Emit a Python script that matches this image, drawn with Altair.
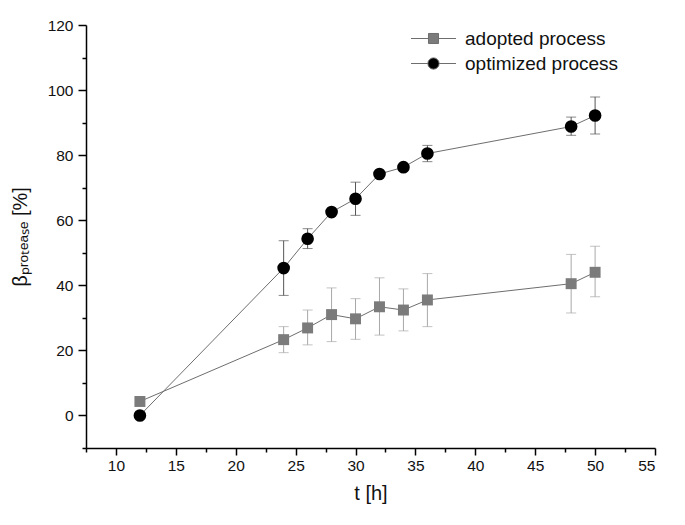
import altair as alt
import pandas as pd

t = [12, 24, 26, 28, 30, 32, 34, 36, 48, 50]
adopted = [4.3, 23.3, 26.9, 31.0, 29.7, 33.4, 32.4, 35.5, 40.5, 44.0]
adopted_lo = [None, 19.3, 21.7, 22.7, 23.4, 24.7, 26.0, 27.3, 31.5, 36.5]
adopted_hi = [None, 27.3, 32.4, 39.2, 35.9, 42.3, 38.9, 43.6, 49.5, 52.0]
optimized = [0.0, 45.3, 54.3, 62.5, 66.6, 74.2, 76.3, 80.5, 88.8, 92.2]
optimized_lo = [None, 36.9, 51.3, None, 61.5, None, None, 78.0, 86.1, 86.5]
optimized_hi = [None, 53.7, 57.4, None, 71.7, None, None, 83.0, 91.7, 97.9]
series = ["adopted process", "optimized process"]
x_ticks = [7.5, 10, 12.5, 15, 17.5, 20, 22.5, 25, 27.5, 30, 32.5, 35, 37.5, 40,
           42.5, 45, 47.5, 50, 52.5, 55]
y_ticks = [-10, 0, 10, 20, 30, 40, 50, 60, 70, 80, 90, 100, 110, 120]

rows = []
for i, tv in enumerate(t):
    rows.append({"t": tv, "v": adopted[i], "lo": adopted_lo[i], "hi": adopted_hi[i], "series": series[0]})
for i, tv in enumerate(t):
    rows.append({"t": tv, "v": optimized[i], "lo": optimized_lo[i], "hi": optimized_hi[i], "series": series[1]})
df = pd.DataFrame(rows)

FONT = "Liberation Sans"
GRAY = "#7b7b7b"
LINE = "#6e6e6e"

x_enc = alt.X("t:Q", scale=alt.Scale(domain=[7.5, 55], nice=False, zero=False),
              axis=alt.Axis(values=x_ticks, format="d",
                            labelExpr="datum.value % 5 == 0 ? datum.label : ''",
                            tickSize={"condition": {"test": "datum.value % 5 == 0", "value": 7}, "value": 4},
                            title="t [h]", titlePadding=10, labelPadding=3))
y_scale = alt.Scale(domain=[-10, 120], nice=False, zero=False)
y_axis = alt.Axis(values=y_ticks, format="d",
                  labelExpr="datum.value % 20 == 0 ? datum.label : ''",
                  tickSize={"condition": {"test": "datum.value % 20 == 0", "value": 8}, "value": 4},
                  title="βₚᵣₒₜₑₐₛₑ [%]", titlePadding=17, labelPadding=5)

base = alt.Chart(df)

err_a = base.transform_filter(
    (alt.datum.series == series[0]) & alt.expr.isValid(alt.datum.lo)
).mark_errorbar(ticks=True, size=10, thickness=1, color="#a8a8a8").encode(
    x=x_enc, y=alt.Y("lo:Q", scale=y_scale, axis=y_axis), y2="hi:Q")

err_o = base.transform_filter(
    (alt.datum.series == series[1]) & alt.expr.isValid(alt.datum.lo)
).mark_errorbar(ticks=True, size=10, thickness=1, color="#555555").encode(
    x=x_enc, y=alt.Y("lo:Q", scale=y_scale, axis=y_axis), y2="hi:Q")

lines = base.mark_line(color=LINE, strokeWidth=1).encode(
    x=x_enc, y=alt.Y("v:Q", scale=y_scale, axis=y_axis), detail="series:N")

squares = base.transform_filter(alt.datum.series == series[0]).mark_square(
    size=120, color=GRAY, opacity=1).encode(
    x=x_enc, y=alt.Y("v:Q", scale=y_scale, axis=y_axis))

circles = base.transform_filter(alt.datum.series == series[1]).mark_circle(
    size=160, color="black", opacity=1).encode(
    x=x_enc, y=alt.Y("v:Q", scale=y_scale, axis=y_axis))

sq_path = "M-3,0L-0.67,0M0.67,0L3,0M-0.67,-0.67L0.67,-0.67L0.67,0.67L-0.67,0.67Z"
ci_path = "M-3,0L-0.75,0M0.75,0L3,0M0.75,0A0.75,0.75 0 1,1 -0.75,0A0.75,0.75 0 1,1 0.75,0Z"

legend = alt.Legend(title=None, orient="none", legendX=338, legendY=4,
                    labelFont=FONT, labelFontSize=19, labelColor="#111",
                    labelOffset=22, rowPadding=5, symbolSize=225,
                    symbolStrokeWidth=1, symbolOpacity=1)

leg = base.transform_filter("false").mark_point(
    filled=True, opacity=1, strokeWidth=1).encode(
    x=x_enc, y=alt.Y("v:Q", scale=y_scale, axis=y_axis),
    shape=alt.Shape("series:N", scale=alt.Scale(domain=series, range=[sq_path, ci_path]), legend=legend),
    fill=alt.Fill("series:N", scale=alt.Scale(domain=series, range=[GRAY, "black"]), legend=legend),
    stroke=alt.Stroke("series:N", scale=alt.Scale(domain=series, range=[LINE, LINE]), legend=legend),
)

chart = alt.layer(err_a, err_o, lines, squares, circles, leg).properties(
    width=569, height=423,
    autosize=alt.AutoSizeParams(type="none"),
    padding={"left": 78, "top": 17, "right": 22, "bottom": 60},
).configure_view(stroke=None).configure_axis(
    grid=False, domainColor="black", domainWidth=1.5, tickColor="black", tickWidth=1.5,
    labelFont=FONT, labelFontSize=15.5, labelColor="#111",
    titleFont=FONT, titleFontSize=20, titleFontWeight="normal", titleColor="#111",
)

chart.save("out.html", embed_options={"renderer": "svg", "actions": False})
